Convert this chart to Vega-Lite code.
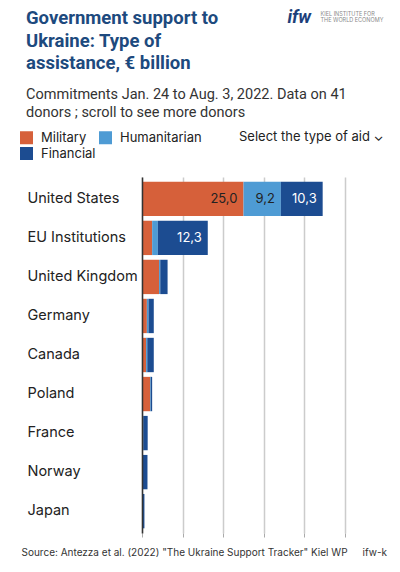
{
  "$schema": "https://vega.github.io/schema/vega-lite/v6.json",
  "width": 203,
  "height": 356,
  "autosize": {"type": "none"},
  "padding": {"left": 142, "top": 177, "right": 55, "bottom": 39},
  "background": "white",
  "config": {
    "view": {"stroke": null},
    "locale": {"number": {"decimal": ",", "thousands": ".", "grouping": [3], "currency": ["", " €"]}}
  },
  "title": {
    "text": ["Government support to", "Ukraine: Type of", "assistance, € billion"],
    "subtitle": ["Commitments Jan. 24 to Aug. 3, 2022. Data on 41", "donors ; scroll to see more donors"],
    "anchor": "start",
    "frame": "group",
    "dx": -116,
    "offset": -111,
    "font": "Roboto",
    "fontSize": 18.5,
    "fontWeight": "bold",
    "color": "#1d4a7e",
    "lineHeight": 22.5,
    "subtitleFont": "Roboto",
    "subtitleFontSize": 14.5,
    "subtitleColor": "#333333",
    "subtitleLineHeight": 18,
    "subtitlePadding": 15
  },
  "data": {
    "values": [
      {"country": "United States", "rank": 1, "type": "Military", "order": 1, "value": 25.0},
      {"country": "United States", "rank": 1, "type": "Humanitarian", "order": 2, "value": 9.2},
      {"country": "United States", "rank": 1, "type": "Financial", "order": 3, "value": 10.3},
      {"country": "EU Institutions", "rank": 2, "type": "Military", "order": 1, "value": 2.5},
      {"country": "EU Institutions", "rank": 2, "type": "Humanitarian", "order": 2, "value": 1.4},
      {"country": "EU Institutions", "rank": 2, "type": "Financial", "order": 3, "value": 12.3},
      {"country": "United Kingdom", "rank": 3, "type": "Military", "order": 1, "value": 4.2},
      {"country": "United Kingdom", "rank": 3, "type": "Humanitarian", "order": 2, "value": 0.3},
      {"country": "United Kingdom", "rank": 3, "type": "Financial", "order": 3, "value": 1.8},
      {"country": "Germany", "rank": 4, "type": "Military", "order": 1, "value": 1.2},
      {"country": "Germany", "rank": 4, "type": "Humanitarian", "order": 2, "value": 0.4},
      {"country": "Germany", "rank": 4, "type": "Financial", "order": 3, "value": 1.3},
      {"country": "Canada", "rank": 5, "type": "Military", "order": 1, "value": 1.0},
      {"country": "Canada", "rank": 5, "type": "Humanitarian", "order": 2, "value": 0.3},
      {"country": "Canada", "rank": 5, "type": "Financial", "order": 3, "value": 1.6},
      {"country": "Poland", "rank": 6, "type": "Military", "order": 1, "value": 2.0},
      {"country": "Poland", "rank": 6, "type": "Humanitarian", "order": 2, "value": 0.15},
      {"country": "Poland", "rank": 6, "type": "Financial", "order": 3, "value": 0.35},
      {"country": "France", "rank": 7, "type": "Military", "order": 1, "value": 0.2},
      {"country": "France", "rank": 7, "type": "Humanitarian", "order": 2, "value": 0.1},
      {"country": "France", "rank": 7, "type": "Financial", "order": 3, "value": 1.1},
      {"country": "Norway", "rank": 8, "type": "Military", "order": 1, "value": 0.1},
      {"country": "Norway", "rank": 8, "type": "Humanitarian", "order": 2, "value": 0.15},
      {"country": "Norway", "rank": 8, "type": "Financial", "order": 3, "value": 1.1},
      {"country": "Japan", "rank": 9, "type": "Military", "order": 1, "value": 0.0},
      {"country": "Japan", "rank": 9, "type": "Humanitarian", "order": 2, "value": 0.1},
      {"country": "Japan", "rank": 9, "type": "Financial", "order": 3, "value": 0.5}
    ]
  },
  "transform": [
    {"stack": "value", "groupby": ["country"], "sort": [{"field": "order", "order": "ascending"}], "as": ["v0", "v1"]}
  ],
  "resolve": {"axis": {"x": "independent", "y": "independent"}},
  "layer": [
    {
      "mark": {"type": "bar"},
      "encoding": {
        "y": {
          "field": "country", "type": "nominal",
          "sort": {"field": "rank", "op": "min", "order": "ascending"},
          "scale": {"paddingInner": 0.12, "paddingOuter": 0.12},
          "axis": {
            "orient": "left",
            "ticks": false, "labelAlign": "left", "labelPadding": 115,
            "labelFontSize": 14.5, "labelFont": "Inter", "labelColor": "#222222", "labelLimit": 130,
            "domainColor": "#333333", "domainWidth": 1.5, "zindex": 1,
            "title": ["KIEL INSTITUTE FOR", "THE WORLD ECONOMY"],
            "titleAngle": 0, "titleX": 178, "titleY": -162, "titleAlign": "left", "titleBaseline": "alphabetic",
            "titleFont": "Inter", "titleFontSize": 5.5, "titleFontWeight": "normal", "titleColor": "#8a8a8a", "titleLineHeight": 6.5
          }
        },
        "x": {
          "field": "v0", "type": "quantitative",
          "scale": {"domain": [0, 50], "nice": false},
          "axis": {
            "orient": "bottom", "values": [0, 10, 20, 30, 40, 50], "grid": true, "gridColor": "#cccccc", "gridWidth": 1.5,
            "labels": false, "domain": false, "ticks": true, "tickSize": 4, "tickColor": "#aaaaaa",
            "title": "Source: Antezza et al. (2022) \"The Ukraine Support Tracker\" Kiel WP",
            "titleX": -121, "titleY": 22, "titleAnchor": "start", "titleAlign": "left", "titleBaseline": "alphabetic",
            "titleFont": "Inter", "titleFontSize": 10, "titleFontWeight": "normal", "titleColor": "#333333"
          }
        },
        "x2": {"field": "v1"},
        "color": {
          "field": "type", "type": "nominal",
          "scale": {"domain": ["Military", "Humanitarian", "Financial"], "range": ["#d6603a", "#4e9bd4", "#1c4c91"]},
          "legend": {
            "orient": "none", "legendX": -122, "legendY": -46, "direction": "horizontal", "columns": 2,
            "symbolType": "square", "symbolSize": 169, "symbolStrokeWidth": 0, "symbolOpacity": 1,
            "labelFontSize": 13, "labelFont": "Inter", "labelColor": "#222222", "labelOffset": 8,
            "columnPadding": 3, "rowPadding": 2,
            "title": "Select the type of aid ⌄", "titleOrient": "right", "titlePadding": 37,
            "titleFontSize": 13, "titleFontWeight": "normal", "titleFont": "Inter", "titleColor": "#222222",
            "titleAnchor": "start", "titleBaseline": "top", "titleLimit": 200
          }
        }
      }
    },
    {
      "transform": [{"filter": "datum.value >= 5"}],
      "mark": {"type": "text", "align": "right", "dx": -6, "baseline": "middle", "fontSize": 13, "font": "Inter"},
      "encoding": {
        "y": {
          "field": "country", "type": "nominal", "sort": {"field": "rank", "op": "min", "order": "ascending"},
          "axis": {
            "orient": "right", "labels": false, "ticks": false, "domain": false, "grid": false,
            "title": "ifw", "titleAngle": 0, "titleX": -58, "titleY": -155, "titleAlign": "left", "titleBaseline": "alphabetic",
            "titleFont": "Roboto", "titleFontSize": 18, "titleFontWeight": "bold", "titleFontStyle": "italic", "titleColor": "#1d3f7a"
          }
        },
        "x": {
          "field": "v1", "type": "quantitative",
          "axis": {
            "orient": "bottom", "grid": false, "labels": false, "ticks": false, "domain": false,
            "title": "ifw-k", "titleX": 220, "titleY": 22, "titleAnchor": "start", "titleAlign": "left", "titleBaseline": "alphabetic",
            "titleFont": "Inter", "titleFontSize": 10, "titleFontWeight": "normal", "titleColor": "#333333"
          }
        },
        "text": {"field": "value", "type": "quantitative", "format": ".1f"},
        "color": {"condition": {"test": "datum.type === 'Financial'", "value": "white"}, "value": "#222222"}
      }
    }
  ]
}
